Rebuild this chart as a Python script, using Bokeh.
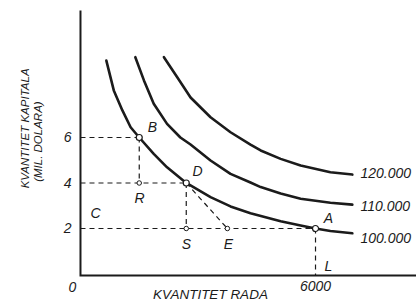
import math
from bokeh.plotting import figure
from bokeh.models import Range1d
from bokeh.core.properties import value
from bokeh.embed import file_html
from bokeh.resources import INLINE

# ---------------- data ----------------
# isoquant 100.000
q100_L = [660, 850, 1070, 1280, 1500, 1870, 2210, 2700, 3320, 3830, 4340, 5110, 5620, 6000, 6380, 6940]
q100_K = [9.38, 8.07, 7.19, 6.45, 6.0, 5.28, 4.69, 4.0, 3.38, 2.97, 2.67, 2.32, 2.13, 2.0, 1.89, 1.79]
# isoquant 110.000
q110_L = [1400, 1620, 1870, 2210, 2550, 2810, 3320, 3830, 4340, 4600, 5110, 5620, 6380, 6940]
q110_K = [9.53, 8.51, 7.48, 6.60, 6.00, 5.69, 4.99, 4.40, 4.02, 3.82, 3.54, 3.31, 3.13, 3.05]
# isoquant 120.000
q120_L = [2130, 2470, 2810, 3320, 3830, 4340, 4600, 5110, 5620, 6380, 6940]
q120_K = [9.53, 8.65, 7.76, 6.89, 6.23, 5.69, 5.43, 5.06, 4.77, 4.47, 4.37]
curve_names = ["100.000", "110.000", "120.000"]

# marked points
main_names = ["B", "D", "A"]
main_L = [1500, 2700, 6000]
main_K = [6, 4, 2]
aux_names = ["R", "S", "E"]
aux_L = [1500, 2700, 3750]
aux_K = [4, 2, 2]

x_ticks = [6000]
x_tick_labels = ["6000"]
y_ticks = [2, 4, 6]
y_tick_labels = ["2", "4", "6"]

FONT = "Liberation Sans"
INK = "#1b1b1b"

X0, X1 = -2042, 8578
Y0, Y1 = -1.297, 12.022
AXIS_Y = -0.066
AXIS_TOP = 11.58

p = figure(width=416, height=303, output_backend="svg", toolbar_location=None,
           x_range=Range1d(X0, X1), y_range=Range1d(Y0, Y1),
           min_border_left=0, min_border_right=0, min_border_top=0, min_border_bottom=0)
p.outline_line_color = None
p.grid.visible = False
p.axis.visible = False
p.background_fill_color = "white"

# axis lines
p.line([0, 0, X1], [AXIS_TOP, AXIS_Y, AXIS_Y], line_color=INK, line_width=2, line_join="miter")

# dashed guides built from the marked points
B, D, A = list(zip(main_L, main_K))
R, S, E = list(zip(aux_L, aux_K))
segs = [((0, B[1]), B), (B, R), ((0, D[1]), D), (D, S), ((0, A[1]), A), (A, (A[0], AXIS_Y)), (D, E)]
p.segment(x0=[s[0][0] for s in segs], y0=[s[0][1] for s in segs],
          x1=[s[1][0] for s in segs], y1=[s[1][1] for s in segs],
          line_color=INK, line_width=1.2, line_dash="5 4")

# isoquants
for xs, ys in ((q100_L, q100_K), (q110_L, q110_K), (q120_L, q120_K)):
    p.line(xs, ys, line_color=INK, line_width=2.6, line_join="round", line_cap="round")

# points
p.scatter(main_L, main_K, size=6, marker="circle", fill_color="white", line_color=INK, line_width=1.2)
p.scatter(aux_L, aux_K, size=4.5, marker="circle", fill_color="white", line_color=INK, line_width=1)


def txt(xs, ys, texts, size="14px", align="center", baseline="middle", angle=0.0):
    p.text(x=xs, y=ys, text=texts, text_font=value(FONT), text_font_style="italic",
           text_font_size=size, text_color=INK, text_align=align,
           text_baseline=baseline, angle=angle)


# tick labels
txt([-230] * len(y_ticks), y_ticks, y_tick_labels, align="right")
txt(x_ticks, [-0.53] * len(x_ticks), x_tick_labels)

# point letters
pl_names = ["B", "D", "R", "S", "E", "A", "L", "C"]
pl_x = [1838, 2987, 1506, 2706, 3778, 6331, 6331, 383]
pl_y = [6.48, 4.51, 3.36, 1.34, 1.30, 2.48, 0.37, 2.66]
txt(pl_x, pl_y, pl_names)

# curve labels
curve_label_K = [1.60, 3.01, 4.42]
txt([7148] * 3, curve_label_K, curve_names, align="left")

# origin and axis titles
txt([-204], [-0.57], ["0"])
txt([3319], [-0.92], ["KVANTITET RADA"], size="13.5px")
txt([-1404], [6.40], ["KVANTITET KAPITALA"], size="11.5px", angle=math.pi / 2)
txt([-1072], [5.82], ["(MIL. DOLARA)"], size="11.5px", angle=math.pi / 2)

open("out.html", "w").write(file_html(p, INLINE))
